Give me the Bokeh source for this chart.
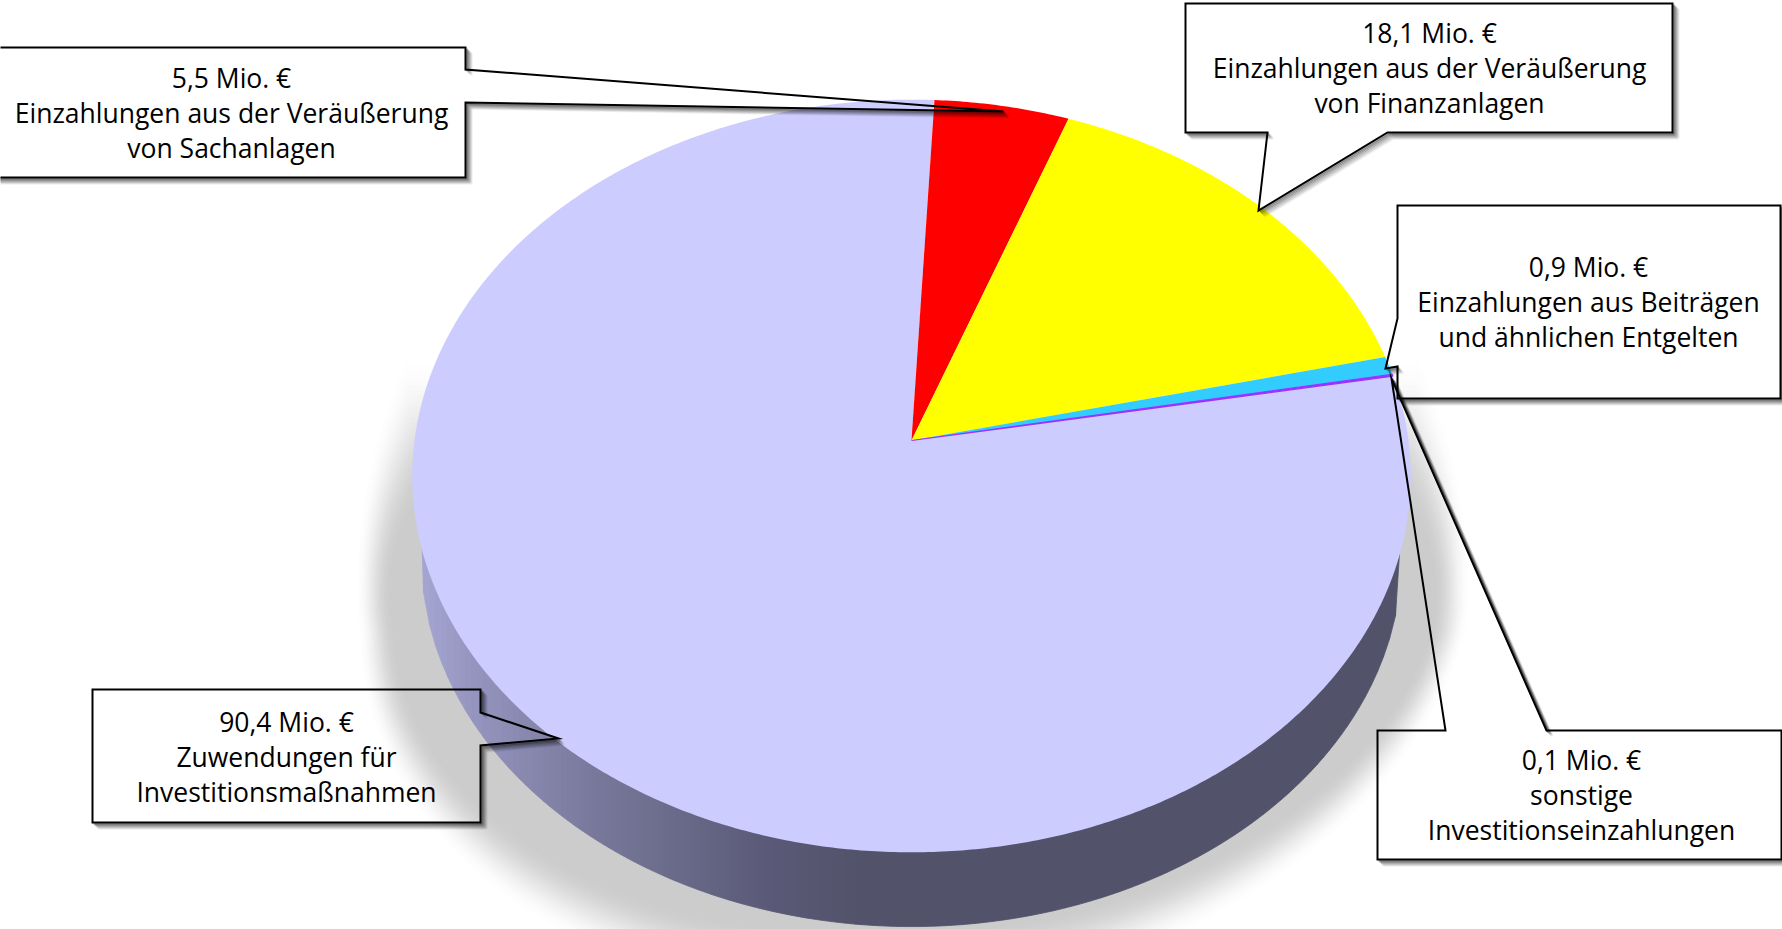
import math
import numpy as np
from bokeh.plotting import figure
from bokeh.models import Range1d, ColumnDataSource
from bokeh.core.properties import value
from bokeh.embed import file_html
from bokeh.resources import INLINE

# ---- data ----
values = [5.5, 18.1, 0.9, 0.1, 90.4]
descriptions = [
    ["Einzahlungen aus der Veräußerung", "von Sachanlagen"],
    ["Einzahlungen aus der Veräußerung", "von Finanzanlagen"],
    ["Einzahlungen aus Beiträgen", "und ähnlichen Entgelten"],
    ["sonstige", "Investitionseinzahlungen"],
    ["Zuwendungen für", "Investitionsmaßnahmen"],
]
slice_colors = ["#ff0000", "#ffff00", "#33ccff", "#9933ff", "#ccccff"]

# ---- layout (pixels of the picture) ----
W, H = 1782, 929
APEX_X, APEX_Y = 911.0, 440.0
A, B, K = 373.0, 497.0, 0.0943
START_DEG = 2.9
DEPTH_SHIFT, DEPTH_SCALE = 81.0, 0.982
MID_Y = APEX_Y + A * K / (1 - K * K)
callouts = [
    [(-6, 47), (465, 47), (465, 69), (1003, 111), (465, 102), (465, 177), (-6, 177)],
    [(1185, 3), (1672, 3), (1672, 132), (1387, 132), (1258, 210), (1267, 132), (1185, 132)],
    [(1397, 205), (1780, 205), (1780, 398), (1397, 398), (1397, 366), (1385, 368), (1397, 318)],
    [(1377, 730), (1445, 730), (1391, 378), (1546, 730), (1781, 730), (1781, 859), (1377, 859)],
    [(92, 689), (480, 689), (480, 712), (558, 738), (480, 745), (480, 822), (92, 822)],
]
label_pos = [(231, 77), (1429, 32), (1588, 266), (1581, 759), (286, 721)]
LINE_STEP = 35
FONT = value("Open Sans")


def project(theta_deg):
    t = np.radians(np.asarray(theta_deg, dtype=float))
    x, y = np.sin(t), np.cos(t)
    d = 1 + K * y
    return APEX_X + B * x / d, APEX_Y - A * y / d


def lower(theta_deg):
    px, py = project(theta_deg)
    return APEX_X + DEPTH_SCALE * (px - APEX_X), MID_Y + DEPTH_SHIFT + DEPTH_SCALE * (py - MID_Y)


def mix(c0, c1, t):
    return "#%02x%02x%02x" % tuple(int(round(a + (b - a) * t)) for a, b in zip(c0, c1))


p = figure(width=W, height=H, output_backend="svg", toolbar_location=None,
           x_range=Range1d(0, W), y_range=Range1d(H, 0), min_border=0,
           x_axis_type=None, y_axis_type=None, outline_line_color=None,
           background_fill_color="#ffffff")
p.grid.visible = False

# ---- soft shadow below the pie ----
N = 28
for i in range(N + 1):
    t = 1 - i / N                    # 1: outermost and faint, 0: innermost and full
    s = 2 * t - 1
    rx, ry_lo, ry_up = 540 + 18 * s, 380 + 35 * s, 280 + 300 * t
    a = np.radians(np.linspace(0, 360, 241))
    sx = 912 + rx * np.cos(a)
    sy = 590 + np.where(np.sin(a) > 0, ry_lo, ry_up) * np.sin(a)
    sy = np.maximum(sy, 352 + (1 - t) * 150)
    sx = sx - 0.136 * np.clip(sy - 633, 0, None)
    u = 1 - t
    f = u * u * (3 - 2 * u)
    p.patch(sx, sy, fill_color=mix((255, 255, 255), (204, 204, 204), f), line_color=None)

# ---- side wall, shaded from left to right ----
stops_x = [410, 470, 535, 600, 663, 765, 860, 1500]
stops_c = [(170, 170, 214), (149, 149, 192), (134, 134, 172), (119, 119, 154),
           (108, 108, 140), (90, 90, 120), (82, 82, 106), (82, 82, 106)]
theta = np.linspace(90, 270, 361)
wx, wy = lower(theta)
edges = np.arange(APEX_X - 500, APEX_X + 500, 6.0)
for x0, x1 in zip(edges[:-1], edges[1:]):
    y0 = np.interp(x0, wx[::-1], wy[::-1])
    y1 = np.interp(x1, wx[::-1], wy[::-1])
    inside = (x1 > wx.min()) and (x0 < wx.max())
    if not inside:
        continue
    xm = 0.5 * (x0 + x1)
    rgb = tuple(np.interp(xm, stops_x, [c[j] for c in stops_c]) for j in range(3))
    col = mix(rgb, rgb, 0)
    x0c, x1c = max(x0, wx.min()), min(x1, wx.max())
    p.patch([x0c, x1c, x1c, x0c], [MID_Y, MID_Y, y1, y0], fill_color=col, line_color=col, line_width=0.8)

# ---- top surface: every slice comes from its value ----
total = sum(values)
angle = START_DEG
xs, ys = [], []
for v in values:
    span = v / total * 360
    th = np.linspace(angle, angle + span, max(3, int(span * 2)))
    ax, ay = project(th)
    xs.append([APEX_X] + list(ax))
    ys.append([APEX_Y] + list(ay))
    angle += span
order = [4, 0, 1, 2]
p.patches([xs[i] for i in order], [ys[i] for i in order],
          fill_color=[slice_colors[i] for i in order], line_color=None)
p.patch(xs[3], ys[3], fill_color=slice_colors[3], line_color=slice_colors[3], line_width=1.2)

# ---- callouts: shadow only on edges that face lower right, then outline ----
for poly in callouts:
    px_ = [q[0] for q in poly]
    py_ = [q[1] for q in poly]
    n = len(poly)
    area = sum(px_[i] * py_[(i + 1) % n] - px_[(i + 1) % n] * py_[i] for i in range(n))
    sign = 1 if area > 0 else -1
    for off, alpha in [(6, 0.06), (5, 0.1), (4, 0.14), (3, 0.2), (2, 0.26), (1, 0.3)]:
        segx, segy = [], []
        for i in range(n):
            x0, y0 = poly[i]
            x1, y1 = poly[(i + 1) % n]
            nx, ny = sign * (y1 - y0), -sign * (x1 - x0)
            if nx + ny > 0:
                segx.append([x0 + off, x1 + off])
                segy.append([y0 + off, y1 + off])
        p.multi_line(segx, segy, line_color="#000000", line_alpha=alpha, line_width=2.5)
    p.patch(px_, py_, fill_alpha=0, line_color="#000000", line_width=2, line_join="miter")

# ---- labels ----
tx, ty, tt = [], [], []
for v, desc, (cx, cy) in zip(values, descriptions, label_pos):
    rows = [f"{v:.1f}".replace(".", ",") + " Mio. €"] + desc
    for r, row in enumerate(rows):
        tx.append(cx)
        ty.append(cy + r * LINE_STEP)
        tt.append(row)
p.text(x="x", y="y", text="t", source=ColumnDataSource(dict(x=tx, y=ty, t=tt)),
       text_font=FONT, text_font_size="26.5px", text_align="center", text_baseline="middle",
       text_color="#000000")

open("out.html", "w").write(file_html(p, INLINE))
